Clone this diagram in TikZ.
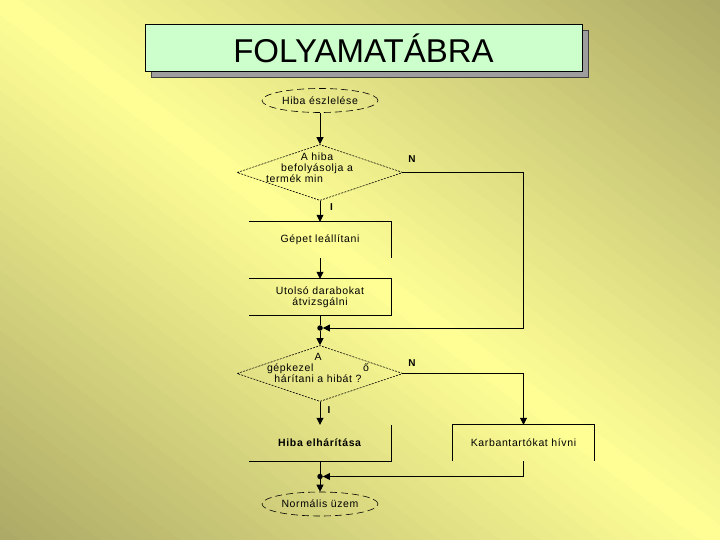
\documentclass[tikz,border=0pt]{standalone}
\usepackage{fontspec}
\setmainfont{Liberation Sans}
\newfontfamily\flowfont[LetterSpace=6]{Liberation Sans}
\usetikzlibrary{shapes.geometric,arrows.meta,shadows}
\definecolor{bgolive}{RGB}{172,169,102}
\definecolor{bgyellow}{RGB}{255,255,150}
\definecolor{titlegreen}{RGB}{204,255,204}

\begin{document}
\begin{tikzpicture}[
      x=1pt,y=-1pt,
      flow/.style={line width=0.8pt,
                   -{Triangle[length=7pt,width=7pt]}},
      plain/.style={line width=0.8pt},
      banner/.style={rectangle,
                    draw,
                    line width=1pt,
                    fill=titlegreen,
                    minimum width=437pt,
                    minimum height=47pt,
                    general shadow={fill=black!38,draw=black!75,
                                    shadow xshift=6pt,shadow yshift=-6pt},
                    font=\fontsize{33}{40}\selectfont},
      terminal/.style={ellipse,
                    draw,
                    line width=0.6pt,
                    dash pattern=on 7pt off 4pt,
                    minimum width=116pt,
                    minimum height=24pt,
                    inner sep=0pt,
                    font=\flowfont\fontsize{10.5}{12}\selectfont},
      decision/.style={diamond,
                    draw,
                    line width=0.6pt,
                    dash pattern=on 2pt off 1.2pt,
                    minimum width=166pt,
                    minimum height=56pt,
                    inner sep=0pt},
      question/.style={align=center,
                    inner sep=0pt,
                    font=\flowfont\fontsize{10.5}{11.2}\selectfont},
      process/.style={rectangle,
                    minimum width=142pt,
                    minimum height=36pt,
                    inner sep=0pt,
                    align=center,
                    font=\flowfont\fontsize{10.5}{11.2}\selectfont},
      answer/.style={font=\bfseries\fontsize{10}{12}\selectfont,
                    inner sep=0pt},
      junction/.style={circle,
                    fill,
                    minimum size=5.5pt,
                    inner sep=0pt}
    ]

    \useasboundingbox (0,0) rectangle (720,540);
    \begin{scope}
      \clip (0,0) rectangle (720,540);
      \foreach \k in {0,...,71}{
        \pgfmathsetmacro\da{-432+12*\k}
        \pgfmathsetmacro\db{\da+12.6}
        \pgfmathsetmacro\mixval{100*(1-abs(\da+6)/432)}
        \fill[bgyellow!\mixval!bgolive]
             (360+0.6*\da-400,270-0.8*\da-300) -- (360+0.6*\da+400,270-0.8*\da+300)
          -- (360+0.6*\db+400,270-0.8*\db+300) -- (360+0.6*\db-400,270-0.8*\db-300)
          -- cycle;
      }
    \end{scope}

    \draw (363.5,48.5)
          node[banner]
          (title)
          {FOLYAMATÁBRA};

    \draw (320,100.5)
          node[terminal]
          (eszleles)
          {Hiba észlelése};
    \draw (320,172.5)
          node[decision]
          (dec1)
          {};
    \draw (317,167.5)
          node[question]
          (dec1txt)
          {A hiba\\befolyásolja a\\\makebox[102pt][l]{termék min}};
    \draw (320,240)
          node[process]
          (gepet)
          {Gépet leállítani};
    \draw (320,297)
          node[process]
          (utolso)
          {Utolsó darabokat\\átvizsgálni};
    \draw (320,328)
          node[junction]
          (j1)
          {};
    \draw (320,373.5)
          node[decision]
          (dec2)
          {};
    \draw (318,368)
          node[question]
          (dec2txt)
          {A\\\makebox[102pt]{gépkezel\hfill ő}\\hárítani a hibát ?};
    \draw (320,443)
          node[process]
          (hibael)
          {\textbf{Hiba elhárítása}};
    \draw (523.5,443)
          node[process]
          (karb)
          {Karbantartókat hívni};
    \draw (320,476.5)
          node[junction]
          (j2)
          {};
    \draw (320,504)
          node[terminal]
          (normal)
          {Normális üzem};

    \draw (412,159) node[answer] (n1) {N};
    \draw (331.5,207.5) node[answer] (i1) {I};
    \draw (412,363) node[answer] (n2) {N};
    \draw (329,410) node[answer] (i2) {I};

    \draw [plain] (gepet.north west) -- (gepet.north east) -- (gepet.south east);
    \draw [plain] (utolso.north west) -- (utolso.north east)
                  -- (utolso.south east) -- (utolso.south west);
    \draw [plain] (hibael.north east) -- (hibael.south east) -- (hibael.south west);
    \draw [plain] (karb.south west) -- (karb.north west)
                  -- (karb.north east) -- (karb.south east);

    \draw [flow] (eszleles) -- (dec1);
    \draw [flow] (dec1) -- (gepet);
    \draw [flow] (gepet) -- (utolso);
    \draw [plain] (utolso) -- (j1);
    \draw [flow] (dec1.east) -| (karb.north |- j1) -- (j1);
    \draw [flow] (j1) -- (dec2);
    \draw [flow] (dec2.east) -| (karb.north);
    \draw [flow] (dec2) -- (hibael);
    \draw [plain] (hibael) -- (j2);
    \draw [flow] (karb.south) |- (j2);
    \draw [flow] (j2) -- (normal);

\end{tikzpicture}
\end{document}
